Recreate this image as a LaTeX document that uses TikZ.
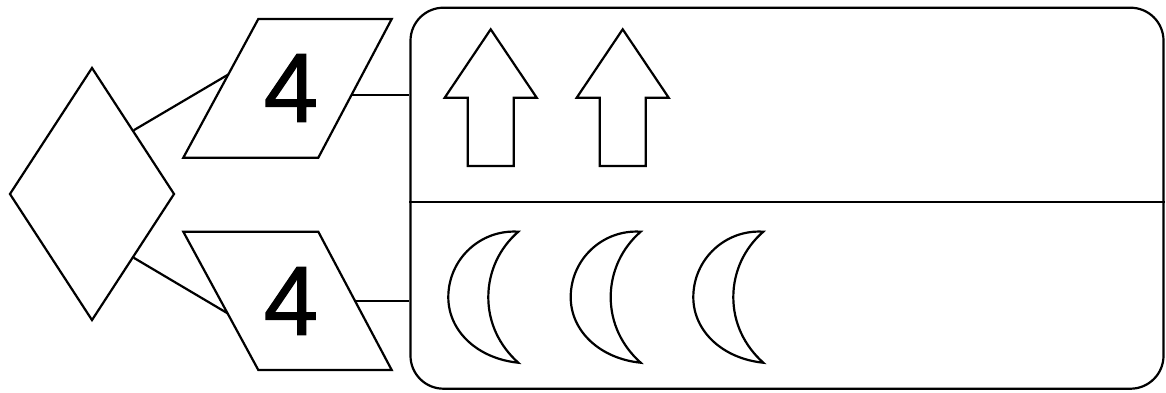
\documentclass[tikz,border=0pt]{standalone}
\usepackage{fontspec}
\setmainfont{Liberation Sans}
\newfontfamily\digitfont[FakeBold=1.2]{Liberation Sans}
\usetikzlibrary{shapes.geometric,calc}
\begin{document}
\begin{tikzpicture}[x=1pt,y=-1pt,
  ln/.style={line width=2.2pt,line join=miter},
  digit/.style={inner sep=0pt,font=\digitfont\fontsize{98}{98}\selectfont},
  crescent/.pic={\draw[ln] (0,0) .. controls (-38,-2.5) and (-70,27.5) .. (-70,65.5)
      .. controls (-70,100) and (-40,127) .. (0,131)
      .. controls (-19,114) and (-30,91) .. (-30,65.5)
      .. controls (-30,40) and (-19,16.5) .. (0,0) -- cycle;},
  uparrow/.pic={\draw[ln] (0,0) -- (46,68.4) -- (23,68.4) -- (23,136.7) -- (-23,136.7)
      -- (-23,68.4) -- (-46,68.4) -- cycle;}
]
\useasboundingbox (0,0) rectangle (1166,392);
% diamond
\node[diamond,draw,ln,minimum width=165pt,minimum height=253pt,inner sep=0pt] (d) at (92,194) {};
% upper parallelogram
\coordinate (ptl) at (258.3,19);
\coordinate (ptr) at (391.7,19);
\coordinate (pbr) at (318.3,157.7);
\coordinate (pbl) at (183.3,157.7);
\draw[ln] (ptl) -- (ptr) -- (pbr) -- (pbl) -- cycle;
\node[digit] (n1) at (291,88) {4};
% lower parallelogram
\coordinate (qtl) at (183.3,231.7);
\coordinate (qtr) at (318.3,231.7);
\coordinate (qbr) at (391.7,370);
\coordinate (qbl) at (258.3,370);
\draw[ln] (qtl) -- (qtr) -- (qbr) -- (qbl) -- cycle;
\node[digit] (n2) at (291,301) {4};
% box
\node[draw,ln,rounded corners=33pt,minimum width=753pt,minimum height=381pt,inner sep=0pt] (box) at (787,198.2) {};
\coordinate (divy) at (0,201.7);
\draw[ln] (box.west |- divy) -- (box.east |- divy);
% connectors
\coordinate (pl) at ($(ptl)!0.4!(pbl)$);
\coordinate (pr) at ($(ptr)!0.55!(pbr)$);
\coordinate (ql) at ($(qtl)!0.59!(qbl)$);
\coordinate (qr) at ($(qtr)!0.5!(qbr)$);
\draw[ln] (d.north east) -- (pl);
\draw[ln] (d.south east) -- (ql);
\draw[ln] (pr) -- (box.west |- pr);
\draw[ln] (qr) -- (box.west |- qr);
% arrows
\pic at (490.7,29.3) {uparrow};
\pic at (622.7,29.3) {uparrow};
% crescents
\pic at (518.3,231.7) {crescent};
\pic at (640.7,231.7) {crescent};
\pic at (763.3,231.7) {crescent};
\end{tikzpicture}
\end{document}
